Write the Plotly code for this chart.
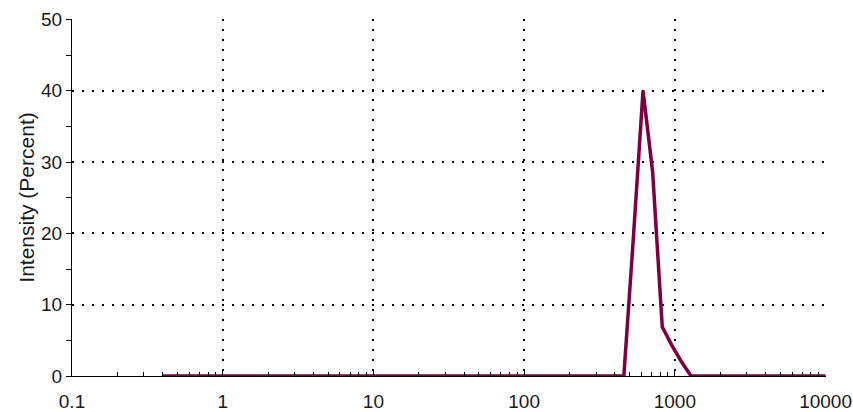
import plotly.graph_objects as go

# size bins (nm) and intensity (%)
SIZE = [0.4, 1, 10, 100, 458.7, 531.2, 615.1, 712.4, 825.0, 955.4, 1106, 1281, 2000, 5000, 10000]
INTENSITY = [0, 0, 0, 0, 0, 19.5, 40.0, 28.6, 6.9, 4.3, 2.0, 0, 0, 0, 0]

X_TICKS = [0.1, 1, 10, 100, 1000, 10000]
X_LABELS = ["0.1", "1", "10", "100", "1000", "10000"]
Y_TICKS = [0, 10, 20, 30, 40, 50]

LINE_COLOR = "#7d0040"
FONT = "Liberation Sans, Arial, sans-serif"

fig = go.Figure()
fig.add_trace(go.Scatter(x=SIZE, y=INTENSITY, mode="lines",
                         line=dict(color=LINE_COLOR, width=3.5), showlegend=False))

# ranges nudged a hair past the last tick so the edge gridlines still get drawn
fig.update_xaxes(type="log", range=[-1, 4.003], automargin=False,
                 tickvals=X_TICKS, ticktext=X_LABELS,
                 showline=True, linecolor="black", linewidth=1,
                 ticks="inside", ticklen=6, tickcolor="black",
                 minor=dict(dtick="D1", ticks="inside", ticklen=4, tickcolor="black", showgrid=False),
                 showgrid=True, gridcolor="black", gridwidth=2, griddash="2px,8px",
                 zeroline=False, ticklabelstandoff=8,
                 tickfont=dict(size=19, color="#1a1a1a"))

fig.update_yaxes(range=[0, 50.05], automargin=False, tickvals=Y_TICKS,
                 showline=True, linecolor="black", linewidth=1,
                 ticks="outside", ticklen=5, tickcolor="black",
                 minor=dict(dtick=5, ticks="outside", ticklen=5, tickcolor="black", showgrid=False),
                 showgrid=True, gridcolor="black", gridwidth=2, griddash="2px,8px",
                 zeroline=False, tickfont=dict(size=19, color="#1a1a1a"),
                 title=dict(text="Intensity (Percent)", font=dict(size=21, color="#1a1a1a"), standoff=0))

fig.update_layout(width=853, height=412,
                  margin=dict(l=72, r=27, t=19, b=36),
                  plot_bgcolor="white", paper_bgcolor="white",
                  font=dict(family=FONT))

# drop the browser's default body margin so the figure sits at the page corner
fig.write_html("out.html", config={"displayModeBar": False},
               post_script="document.body.style.margin='0px';")
